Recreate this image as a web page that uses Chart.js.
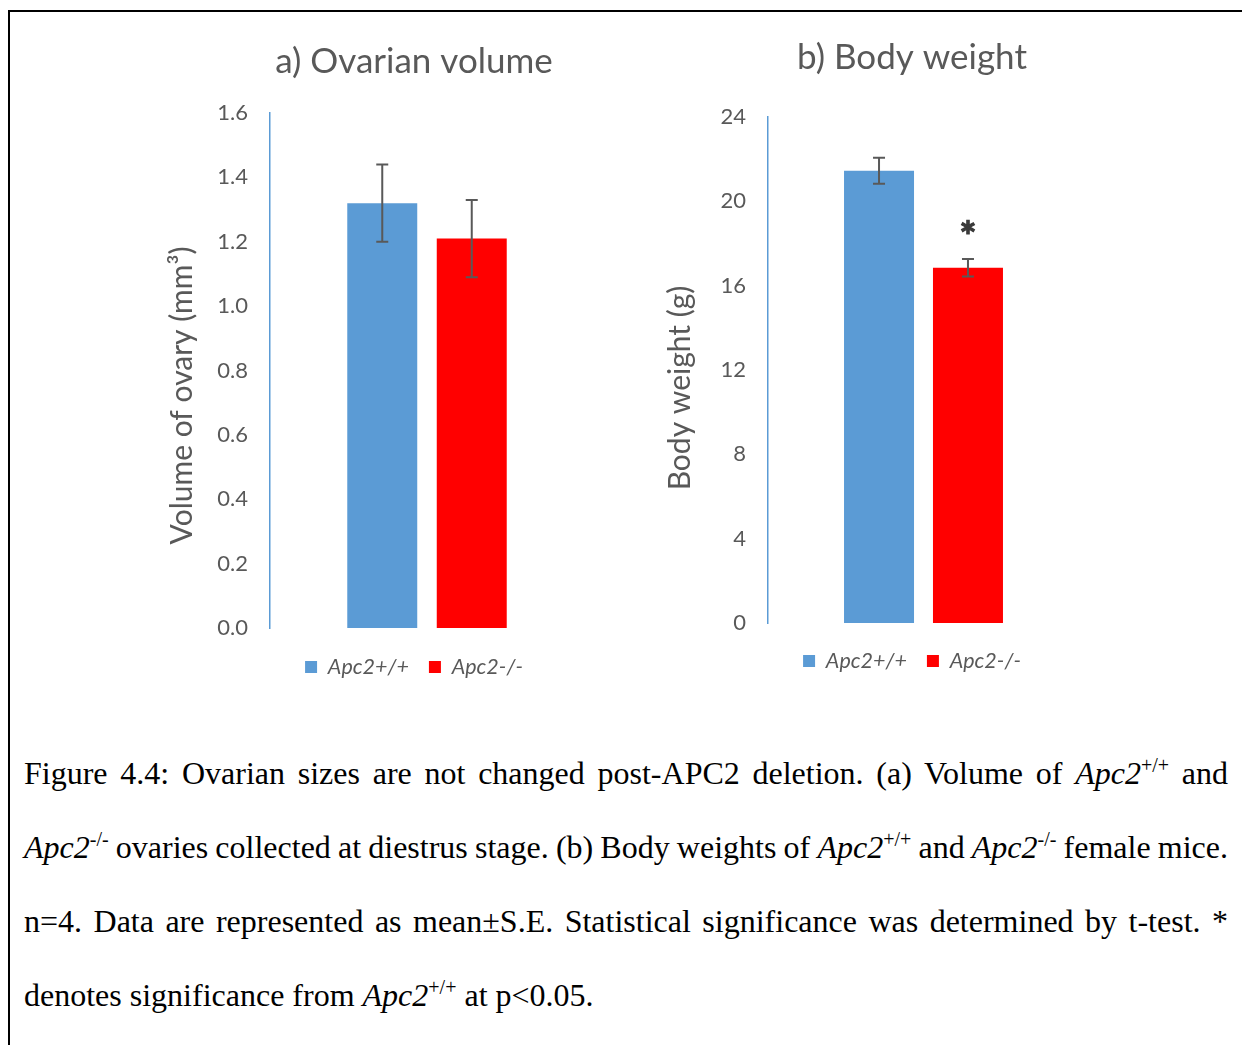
<!DOCTYPE html>
<html>
<head>
<meta charset="utf-8">
<script src="https://cdn.jsdelivr.net/npm/chart.js@4.4.1/dist/chart.umd.min.js"></script>
<style>
  body { margin: 0; background: #fff; width: 1242px; height: 1045px; overflow: hidden; position: relative; }
  #frame { position: absolute; left: 8px; top: 10px; width: 1240px; height: 1040px; border-top: 2px solid #000; border-left: 2px solid #000; }
  .box { position: absolute; top: 20px; height: 680px; }
  #boxA { left: 150px; width: 528px; }
  #boxB { left: 650px; width: 524px; }
  #caption {
    position: absolute; left: 24px; top: 736px; width: 1204px;
    font-family: "Liberation Serif", "Times New Roman", serif; font-size: 32px;
    line-height: 74px; color: #000;
  }
  #caption div { white-space: nowrap; }
  #caption .j { text-align: justify; text-align-last: justify; }
  #caption .tight { word-spacing: -2px; }
  #caption sup { font-size: 20px; line-height: 0; vertical-align: 12px; }
</style>
</head>
<body>
<div id="frame"></div>
<div class="box" id="boxA"><canvas id="chartA"></canvas></div>
<div class="box" id="boxB"><canvas id="chartB"></canvas></div>
<div id="caption">
  <div class="j">Figure 4.4: Ovarian sizes are not changed post-APC2 deletion. (a) Volume of <i>Apc2</i><sup>+/+</sup> and</div>
  <div class="j tight"><i>Apc2</i><sup>-/-</sup> ovaries collected at diestrus stage. (b) Body weights of <i>Apc2</i><sup>+/+</sup> and <i>Apc2</i><sup>-/-</sup> female mice.</div>
  <div class="j">n=4. Data are represented as mean&plusmn;S.E. Statistical significance was determined by t-test. *</div>
  <div>denotes significance from <i>Apc2</i><sup>+/+</sup> at p&lt;0.05.</div>
</div>

<script>
const groups = ["Apc2+/+", "Apc2-/-"];
const groupColors = ["#5B9BD5", "#FF0000"];

// a) ovarian volume (mm3)
const volumeMean = [1.32, 1.21];
const volumeErr = [0.12, 0.12];
const volumeTicks = [0, 0.2, 0.4, 0.6, 0.8, 1.0, 1.2, 1.4, 1.6];

// b) body weight (g)
const weightMean = [21.45, 16.85];
const weightErr = [0.62, 0.41];
const weightTicks = [0, 4, 8, 12, 16, 20, 24];
const weightSig = ["", "*"];

const grey = "#595959";
const sans = "Lato, 'Open Sans', sans-serif";

// error bars + significance marks, drawn from the y scale
const errorBars = {
  id: "errorBars",
  afterDatasetsDraw(chart, args, opts) {
    const ctx = chart.ctx;
    const y = chart.scales.y;
    chart.data.datasets.forEach((ds, i) => {
      const bar = chart.getDatasetMeta(i).data[0];
      const v = ds.data[0], e = opts.errors[i];
      const top = y.getPixelForValue(v + e);
      const bot = y.getPixelForValue(v - e);
      ctx.save();
      ctx.strokeStyle = grey;
      ctx.lineWidth = 2;
      ctx.beginPath();
      ctx.moveTo(bar.x, top); ctx.lineTo(bar.x, bot);
      ctx.moveTo(bar.x - 6, top); ctx.lineTo(bar.x + 6, top);
      ctx.moveTo(bar.x - 6, bot); ctx.lineTo(bar.x + 6, bot);
      ctx.stroke();
      const mark = opts.marks ? opts.marks[i] : "";
      if (mark) {
        ctx.fillStyle = "#3a3a3a";
        ctx.strokeStyle = "#3a3a3a";
        ctx.lineWidth = 1.2;
        ctx.font = "bold 40px " + sans;
        ctx.textAlign = "center";
        ctx.textBaseline = "alphabetic";
        ctx.fillText(mark, bar.x, top - 8);
        ctx.strokeText(mark, bar.x, top - 8);
      }
      ctx.restore();
    });
  }
};

// y axis title, set a bit below the middle of the plot like the original
const yTitle = {
  id: "yTitle",
  afterDraw(chart, args, opts) {
    const ctx = chart.ctx;
    const area = chart.chartArea;
    ctx.save();
    ctx.translate(opts.x, (area.top + area.bottom) / 2 + opts.shift);
    ctx.rotate(-Math.PI / 2);
    ctx.fillStyle = grey;
    ctx.font = "30px " + sans;
    ctx.textAlign = "center";
    ctx.textBaseline = "middle";
    ctx.fillText(opts.text, 0, 0);
    ctx.restore();
  }
};

function makeChart(id, cfg) {
  return new Chart(document.getElementById(id), {
    type: "bar",
    data: {
      labels: [""],
      datasets: groups.map((g, i) => ({
        label: g,
        data: [cfg.mean[i]],
        backgroundColor: groupColors[i],
        categoryPercentage: cfg.catPct,
        barPercentage: cfg.barPct,
      })),
    },
    options: {
      responsive: true,
      maintainAspectRatio: false,
      animation: false,
      layout: { padding: { left: 0, right: 0, top: 0, bottom: cfg.padBottom } },
      plugins: {
        title: {
          display: true,
          text: cfg.title,
          color: grey,
          font: { family: sans, size: 35, weight: "normal" },
          padding: { top: cfg.titleTop, bottom: cfg.titleBottom },
        },
        legend: {
          position: "bottom",
          labels: {
            boxWidth: 12, boxHeight: 12, padding: 20,
            color: grey,
            font: { family: sans, size: 21.5, style: "italic" },
          },
        },
        tooltip: { enabled: false },
        errorBars: { errors: cfg.err, marks: cfg.marks },
        yTitle: { text: cfg.yTitle, x: cfg.yTitleX, shift: cfg.yTitleShift },
      },
      scales: {
        x: {
          grid: { display: false },
          border: { display: false },
          ticks: { display: false },
          afterFit: (s) => { s.height = cfg.xHeight; },
        },
        y: {
          min: cfg.ticks[0],
          max: cfg.ticks[cfg.ticks.length - 1],
          afterBuildTicks: (s) => { s.ticks = cfg.ticks.map((v) => ({ value: v })); },
          afterFit: (s) => { s.width = cfg.yWidth; },
          grid: { display: false, drawTicks: false },
          border: { display: true, color: "#5B9BD5", width: 1.5 },
          ticks: {
            padding: 22,
            color: grey,
            font: { family: sans, size: 22 },
            callback: cfg.fmt,
          },
        },
        // empty right-hand axis, only keeps the bars off the right edge
        pad: {
          type: "linear",
          position: "right",
          display: true,
          grid: { display: false, drawTicks: false },
          border: { display: false },
          ticks: { display: false },
          afterFit: (s) => { s.width = cfg.padRight; },
        },
      },
    },
    plugins: [errorBars, yTitle],
  });
}

makeChart("chartA", {
  title: "a) Ovarian volume",
  yTitle: "Volume of ovary (mm\u00B3)",
  mean: volumeMean, err: volumeErr, ticks: volumeTicks,
  fmt: (v) => Number(v).toFixed(1),
  catPct: 0.57, barPct: 0.782,
  padRight: 94, padBottom: 12.25,
  titleTop: 21, titleBottom: 30,
  xHeight: 8.25, yWidth: 120, yTitleX: 32, yTitleShift: 25,
});

makeChart("chartB", {
  title: "b) Body weight",
  yTitle: "Body weight (g)",
  mean: weightMean, err: weightErr, ticks: weightTicks, marks: weightSig,
  fmt: (v) => String(v),
  catPct: 0.572, barPct: 0.787,
  padRight: 95, padBottom: 18.25,
  titleTop: 17, titleBottom: 38,
  xHeight: 7.25, yWidth: 118, yTitleX: 30, yTitleShift: 18,
});
</script>
</body>
</html>
